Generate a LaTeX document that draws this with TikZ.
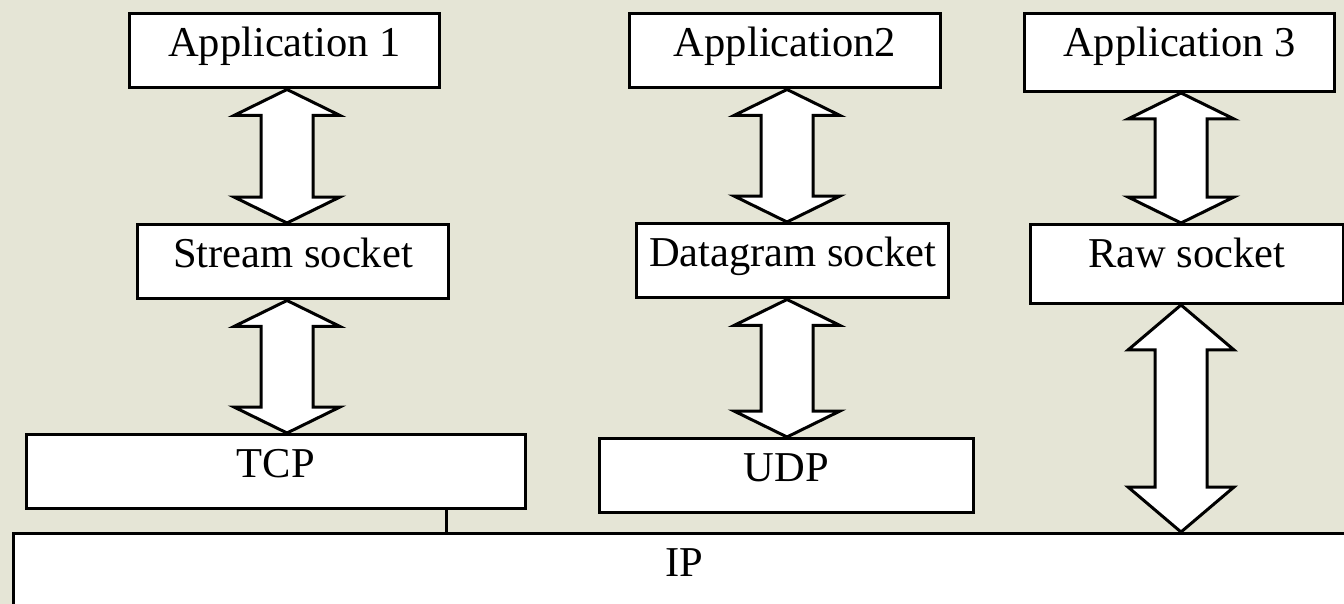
\documentclass[tikz,border=0pt]{standalone}
\usepackage{fontspec}
\setmainfont{Liberation Serif}
\usepackage{tikz}
\usetikzlibrary{calc}
\definecolor{bgbeige}{RGB}{229,229,214}
\tikzset{
  layer/.style={draw, fill=white, line width=0.06cm, anchor=north west, inner xsep=0pt, inner ysep=0pt,
    text height=0.86cm, text depth=0.63cm, font=\fontsize{24.2}{29}\selectfont},
  blockarrow/.style={draw, fill=white, line width=0.06cm, line join=miter}
}
\newcommand\dblarrow[4]{%
  \draw[blockarrow] let \p1=(#2.south -| #1), \p2=(#3.north -| #1) in
    (\x1,\y1) -- (\x1+1.06cm,\y1-#4) -- (\x1+0.52cm,\y1-#4) -- (\x1+0.52cm,\y2+#4)
    -- (\x1+1.06cm,\y2+#4) -- (\x2,\y2) -- (\x1-1.06cm,\y2+#4) -- (\x1-0.52cm,\y2+#4)
    -- (\x1-0.52cm,\y1-#4) -- (\x1-1.06cm,\y1-#4) -- cycle;}

\begin{document}
\begin{tikzpicture}[x=0.02cm, y=-0.02cm]
  \useasboundingbox (0,0) rectangle (1344,604);
  \clip (0,0) rectangle (1344,604);
  \fill[bgbeige] (0,0) rectangle (1344,604);

  \node[layer, minimum width=6.2cm] (app1) at (128,12) {Application 1};
  \node[layer, minimum width=6.22cm] (stream) at (136,223) {Stream socket};
  \node[layer, minimum width=9.98cm] (tcp) at (25,433) {TCP};
  \node[layer, minimum width=6.22cm] (app2) at (628,12) {Application2};
  \node[layer, minimum width=6.24cm] (dgram) at (635,222) {Datagram socket};
  \node[layer, minimum width=7.48cm] (udp) at (598,437) {UDP};
  \node[layer, minimum width=6.2cm, text depth=0.7cm] (app3) at (1023,12) {Application 3};
  \node[layer, minimum width=6.26cm, text depth=0.72cm] (raw) at (1029,223) {Raw socket};
  \node[layer, minimum width=26.84cm, text depth=3cm] (ip) at (12,532) {IP};

  \coordinate (col1) at (287,0);
  \coordinate (col2) at (787,0);
  \coordinate (col3) at (1181,0);
  \coordinate (tap) at (446,0);

  \draw[line width=0.06cm] (tcp.south -| tap) -- (ip.north -| tap);
  \dblarrow{col1}{app1}{stream}{0.52cm}
  \dblarrow{col1}{stream}{tcp}{0.52cm}
  \dblarrow{col2}{app2}{dgram}{0.52cm}
  \dblarrow{col2}{dgram}{udp}{0.52cm}
  \dblarrow{col3}{app3}{raw}{0.52cm}
  \dblarrow{col3}{raw}{ip}{0.9cm}
\end{tikzpicture}
\end{document}
